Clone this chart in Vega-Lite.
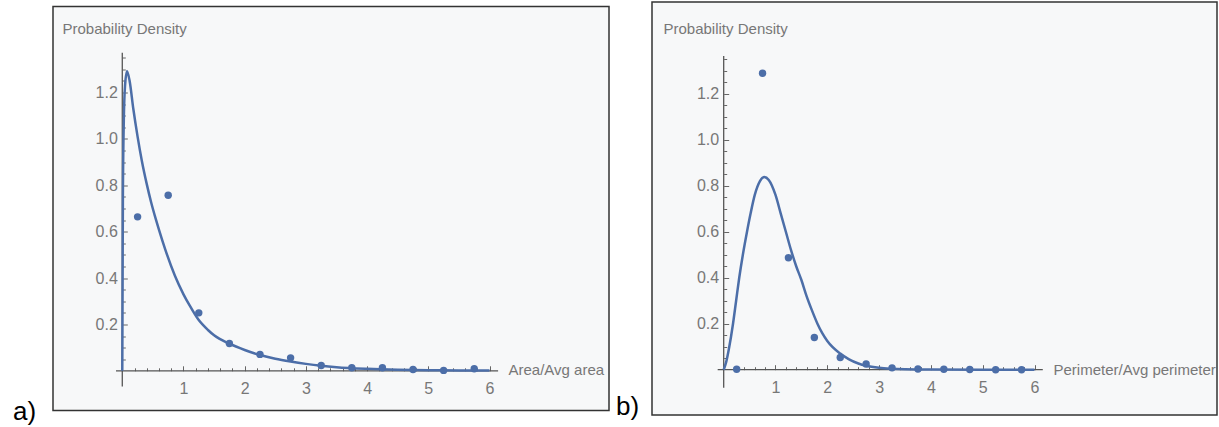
{
  "$schema": "https://vega.github.io/schema/vega-lite/v6.json",
  "padding": {"left": 12, "top": 1, "right": 0, "bottom": 0},
  "background": "white",
  "datasets": {
    "ptsA": [
      {"x": 0.25, "y": 0.664}, {"x": 0.75, "y": 0.757}, {"x": 1.25, "y": 0.25}, {"x": 1.75, "y": 0.118},
      {"x": 2.25, "y": 0.071}, {"x": 2.75, "y": 0.056}, {"x": 3.25, "y": 0.023}, {"x": 3.75, "y": 0.013},
      {"x": 4.25, "y": 0.013}, {"x": 4.75, "y": 0.006}, {"x": 5.25, "y": 0.002}, {"x": 5.75, "y": 0.009}
    ],
    "curveA": [
      {"x": 0, "y": 0}, {"x": 0.01, "y": 0.75}, {"x": 0.025, "y": 1.08}, {"x": 0.045, "y": 1.23},
      {"x": 0.077, "y": 1.292}, {"x": 0.12, "y": 1.25}, {"x": 0.18, "y": 1.13}, {"x": 0.25, "y": 1.01},
      {"x": 0.32, "y": 0.905}, {"x": 0.4, "y": 0.805}, {"x": 0.47, "y": 0.728}, {"x": 0.55, "y": 0.652},
      {"x": 0.6, "y": 0.608}, {"x": 0.7, "y": 0.525}, {"x": 0.86, "y": 0.41}, {"x": 1.0, "y": 0.33},
      {"x": 1.1, "y": 0.282}, {"x": 1.24, "y": 0.222}, {"x": 1.4, "y": 0.176}, {"x": 1.5, "y": 0.153},
      {"x": 1.75, "y": 0.117}, {"x": 2.0, "y": 0.09}, {"x": 2.25, "y": 0.068}, {"x": 2.5, "y": 0.052},
      {"x": 2.75, "y": 0.04}, {"x": 3.0, "y": 0.03}, {"x": 3.25, "y": 0.022}, {"x": 3.5, "y": 0.016},
      {"x": 4.0, "y": 0.009}, {"x": 4.5, "y": 0.005}, {"x": 5.0, "y": 0.003}, {"x": 5.5, "y": 0.002},
      {"x": 6.0, "y": 0.001}
    ],
    "ptsB": [
      {"x": 0.25, "y": 0.002}, {"x": 0.75, "y": 1.289}, {"x": 1.25, "y": 0.487}, {"x": 1.75, "y": 0.14},
      {"x": 2.25, "y": 0.053}, {"x": 2.75, "y": 0.025}, {"x": 3.25, "y": 0.008}, {"x": 3.75, "y": 0.003},
      {"x": 4.25, "y": 0.002}, {"x": 4.75, "y": 0.001}, {"x": 5.25, "y": 0.0}, {"x": 5.75, "y": 0.0}
    ],
    "curveB": [
      {"x": 0, "y": 0}, {"x": 0.05, "y": 0.035}, {"x": 0.1, "y": 0.09}, {"x": 0.18, "y": 0.2},
      {"x": 0.24, "y": 0.3}, {"x": 0.3, "y": 0.4}, {"x": 0.37, "y": 0.5}, {"x": 0.45, "y": 0.6},
      {"x": 0.52, "y": 0.68}, {"x": 0.6, "y": 0.76}, {"x": 0.7, "y": 0.82}, {"x": 0.784, "y": 0.838},
      {"x": 0.87, "y": 0.825}, {"x": 1.0, "y": 0.76}, {"x": 1.1, "y": 0.68}, {"x": 1.2, "y": 0.6},
      {"x": 1.3, "y": 0.52}, {"x": 1.4, "y": 0.45}, {"x": 1.5, "y": 0.39}, {"x": 1.6, "y": 0.32},
      {"x": 1.7, "y": 0.26}, {"x": 1.81, "y": 0.2}, {"x": 1.9, "y": 0.16}, {"x": 2.0, "y": 0.125},
      {"x": 2.25, "y": 0.07}, {"x": 2.42, "y": 0.045}, {"x": 2.6, "y": 0.027}, {"x": 2.75, "y": 0.017},
      {"x": 3.0, "y": 0.008}, {"x": 3.25, "y": 0.004}, {"x": 3.5, "y": 0.002}, {"x": 4.0, "y": 0.0005},
      {"x": 5.0, "y": 0}, {"x": 6.0, "y": 0}
    ]
  },
  "spacing": 43,
  "bounds": "flush",
  "center": true,
  "hconcat": [
    {
      "width": 556,
      "height": 404,
      "layer": [
        {
          "data": {"values": [{}]},
          "mark": {"type": "rule", "color": "#555", "strokeWidth": 1.3},
          "encoding": {
            "x": {"datum": -0.103, "type": "quantitative", "scale": {"domain": [-1.132, 7.952], "nice": false, "zero": false}, "axis": null},
            "x2": {"datum": 6.14},
            "y": {"datum": 0, "type": "quantitative", "scale": {"domain": [-0.171, 1.571], "nice": false, "zero": false}, "axis": null}
          }
        },
        {
          "data": {"values": [{}]},
          "mark": {"type": "rule", "color": "#555", "strokeWidth": 1.3},
          "encoding": {
            "x": {"datum": 0, "type": "quantitative", "scale": {"domain": [-1.132, 7.952], "nice": false, "zero": false}, "axis": null},
            "y": {"datum": -0.067, "type": "quantitative", "scale": {"domain": [-0.171, 1.571], "nice": false, "zero": false}, "axis": null},
            "y2": {"datum": 1.372}
          }
        },
        {
          "data": {"name": "curveA"},
          "mark": {"type": "line", "color": "#4c6ea8", "strokeWidth": 2.5, "interpolate": "monotone"},
          "encoding": {
            "x": {
              "field": "x", "type": "quantitative",
              "scale": {"domain": [-1.132, 7.952], "nice": false, "zero": false},
              "axis": {"orient": "bottom", "offset": -39.7, "values": [1, 2, 3, 4, 5, 6], "format": "d", "tickSize": -5, "labelPadding": 14.5, "labelFlush": false,
                       "title": "Area/Avg area", "titleAlign": "left", "titleBaseline": "middle", "titleX": 455, "titleY": -1}
            },
            "y": {
              "field": "y", "type": "quantitative",
              "scale": {"domain": [-0.171, 1.571], "nice": false, "zero": false},
              "axis": {"orient": "left", "offset": -69.3, "values": [0.2, 0.4, 0.6, 0.8, 1.0, 1.2], "format": ".1f", "tickSize": -5, "labelPadding": 10,
                       "title": "Probability Density", "titleAngle": 0, "titleAlign": "left", "titleBaseline": "alphabetic", "titleX": -60.3, "titleY": 27}
            }
          }
        },
        {
          "data": {"name": "ptsA"},
          "mark": {"type": "circle", "color": "#4c6ea8", "size": 55, "opacity": 1},
          "encoding": {
            "x": {
              "field": "x", "type": "quantitative",
              "scale": {"domain": [-1.132, 7.952], "nice": false, "zero": false},
              "axis": {"orient": "bottom", "offset": -39.7, "values": [0.2, 0.4, 0.6, 0.8, 1.2, 1.4, 1.6, 1.8, 2.2, 2.4, 2.6, 2.8, 3.2, 3.4, 3.6, 3.8, 4.2, 4.4, 4.6, 4.8, 5.2, 5.4, 5.6, 5.8], "labels": false, "tickSize": -3, "title": null}
            },
            "y": {
              "field": "y", "type": "quantitative",
              "scale": {"domain": [-0.171, 1.571], "nice": false, "zero": false},
              "axis": {"orient": "left", "offset": -69.3, "values": [0.05, 0.1, 0.15, 0.25, 0.3, 0.35, 0.45, 0.5, 0.55, 0.65, 0.7, 0.75, 0.85, 0.9, 0.95, 1.05, 1.1, 1.15, 1.25, 1.3, 1.35], "labels": false, "tickSize": -3, "title": null}
            }
          }
        },
        {
          "data": {"values": [{}]},
          "mark": {"type": "text", "text": "a)", "font": "Liberation Sans", "fontSize": 26, "align": "left", "baseline": "alphabetic", "color": "#000"},
          "encoding": {
            "x": {"datum": -1.786, "type": "quantitative", "scale": {"domain": [-1.132, 7.952], "nice": false, "zero": false}, "axis": null},
            "y": {"datum": -0.211, "type": "quantitative", "scale": {"domain": [-0.171, 1.571], "nice": false, "zero": false}, "axis": null}
          }
        }
      ],
      "resolve": {"axis": {"x": "independent", "y": "independent"}}
    },
    {
      "width": 565,
      "height": 413,
      "layer": [
        {
          "data": {"values": [{}]},
          "mark": {"type": "rule", "color": "#555", "strokeWidth": 1.3},
          "encoding": {
            "x": {"datum": -0.116, "type": "quantitative", "scale": {"domain": [-1.384, 9.523], "nice": false, "zero": false}, "axis": null},
            "x2": {"datum": 6.16},
            "y": {"datum": 0, "type": "quantitative", "scale": {"domain": [-0.197, 1.599], "nice": false, "zero": false}, "axis": null}
          }
        },
        {
          "data": {"values": [{}]},
          "mark": {"type": "rule", "color": "#555", "strokeWidth": 1.3},
          "encoding": {
            "x": {"datum": 0, "type": "quantitative", "scale": {"domain": [-1.384, 9.523], "nice": false, "zero": false}, "axis": null},
            "y": {"datum": -0.078, "type": "quantitative", "scale": {"domain": [-0.197, 1.599], "nice": false, "zero": false}, "axis": null},
            "y2": {"datum": 1.364}
          }
        },
        {
          "data": {"name": "curveB"},
          "mark": {"type": "line", "color": "#4c6ea8", "strokeWidth": 2.5, "interpolate": "monotone"},
          "encoding": {
            "x": {
              "field": "x", "type": "quantitative",
              "scale": {"domain": [-1.384, 9.523], "nice": false, "zero": false},
              "axis": {"orient": "bottom", "offset": -45.3, "values": [1, 2, 3, 4, 5, 6], "format": "d", "tickSize": -5, "labelPadding": 14.5, "labelFlush": false,
                       "title": "Perimeter/Avg perimeter", "titleAlign": "left", "titleBaseline": "middle", "titleX": 401, "titleY": 0}
            },
            "y": {
              "field": "y", "type": "quantitative",
              "scale": {"domain": [-0.197, 1.599], "nice": false, "zero": false},
              "axis": {"orient": "left", "offset": -71.7, "values": [0.2, 0.4, 0.6, 0.8, 1.0, 1.2], "format": ".1f", "tickSize": -5, "labelPadding": 10,
                       "title": "Probability Density", "titleAngle": 0, "titleAlign": "left", "titleBaseline": "alphabetic", "titleX": -60.7, "titleY": 31.7}
            }
          }
        },
        {
          "data": {"name": "ptsB"},
          "mark": {"type": "circle", "color": "#4c6ea8", "size": 55, "opacity": 1},
          "encoding": {
            "x": {
              "field": "x", "type": "quantitative",
              "scale": {"domain": [-1.384, 9.523], "nice": false, "zero": false},
              "axis": {"orient": "bottom", "offset": -45.3, "values": [0.2, 0.4, 0.6, 0.8, 1.2, 1.4, 1.6, 1.8, 2.2, 2.4, 2.6, 2.8, 3.2, 3.4, 3.6, 3.8, 4.2, 4.4, 4.6, 4.8, 5.2, 5.4, 5.6, 5.8], "labels": false, "tickSize": -3, "title": null}
            },
            "y": {
              "field": "y", "type": "quantitative",
              "scale": {"domain": [-0.197, 1.599], "nice": false, "zero": false},
              "axis": {"orient": "left", "offset": -71.7, "values": [0.05, 0.1, 0.15, 0.25, 0.3, 0.35, 0.45, 0.5, 0.55, 0.65, 0.7, 0.75, 0.85, 0.9, 0.95, 1.05, 1.1, 1.15, 1.25, 1.3, 1.35], "labels": false, "tickSize": -3, "title": null}
            }
          }
        },
        {
          "data": {"values": [{}]},
          "mark": {"type": "text", "text": "b)", "font": "Liberation Sans", "fontSize": 26, "align": "left", "baseline": "alphabetic", "color": "#000"},
          "encoding": {
            "x": {"datum": -2.079, "type": "quantitative", "scale": {"domain": [-1.384, 9.523], "nice": false, "zero": false}, "axis": null},
            "y": {"datum": -0.197, "type": "quantitative", "scale": {"domain": [-0.197, 1.599], "nice": false, "zero": false}, "axis": null}
          }
        }
      ],
      "resolve": {"axis": {"x": "independent", "y": "independent"}}
    }
  ],
  "config": {
    "view": {"stroke": "#333", "strokeWidth": 1.5, "fill": "#f7f8f9"},
    "axis": {
      "labelFont": "Liberation Sans",
      "titleFont": "Liberation Sans",
      "labelFontSize": 16,
      "titleFontSize": 15,
      "labelColor": "#777",
      "titleColor": "#777",
      "titleFontWeight": "normal",
      "grid": false,
      "domain": false,
      "tickColor": "#666",
      "tickWidth": 1
    }
  }
}
